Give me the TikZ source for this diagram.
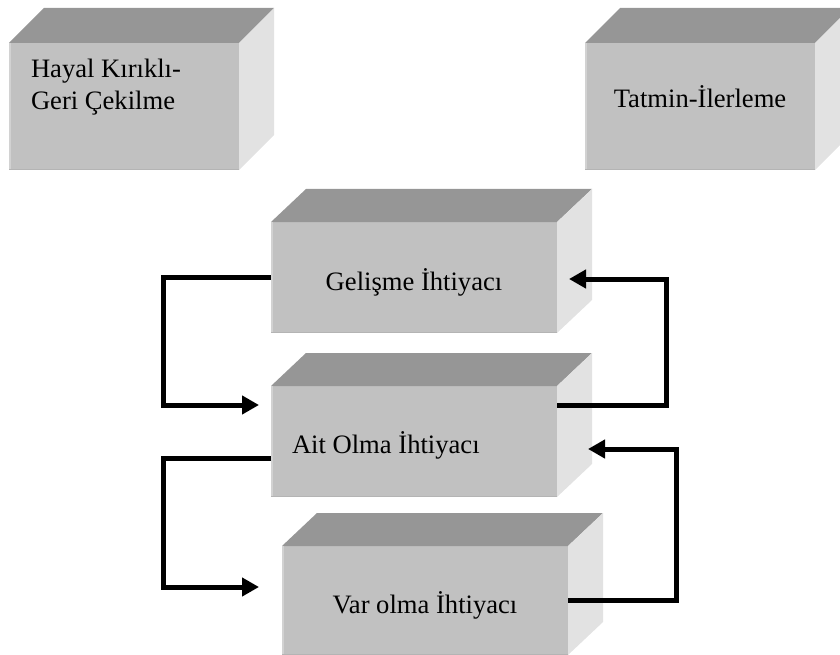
\documentclass[tikz,border=0pt]{standalone}
\usepackage{fontspec}
\setmainfont{Liberation Serif}
\usetikzlibrary{arrows.meta,calc}
\definecolor{cubetop}{HTML}{969696}
\definecolor{cubefrontc}{HTML}{C1C1C1}
\definecolor{cubeside}{HTML}{E2E2E2}
\definecolor{cubeedgelight}{HTML}{D2D2D2}
\definecolor{cubeedgedark}{HTML}{B4B4B4}
\tikzset{
  frontface/.style={fill=cubefrontc, draw=none, inner sep=0pt, outer sep=0pt},
  boxtext/.style={font=\fontsize{26.6pt}{32pt}\selectfont, inner sep=0pt, outer sep=0pt, text=black},
  flow/.style={line width=5pt, -{Triangle[length=17pt,width=18pt]}, line join=miter},
}
% top and right faces of a box whose front face is node #1, depth (#2,#3),
% with a thin light edge on the left and a darker one along the bottom
\newcommand\cubefaces[3]{%
  \fill[cubetop] (#1.north west) -- ++(#2,-#3) -- ($(#1.north east)+(#2,-#3)$) -- (#1.north east) -- cycle;
  \fill[cubeside] (#1.north east) -- ++(#2,-#3) -- ($(#1.south east)+(#2,-#3)$) -- (#1.south east) -- cycle;
  \draw[cubeedgelight, line width=1.5pt] ($(#1.north west)+(0.75,0)$) -- ($(#1.south west)+(0.75,0)$);
  \draw[cubeedgedark, line width=1.2pt] ($(#1.south west)+(0,-0.6)$) -- ($(#1.south east)+(0,-0.6)$);
}
\begin{document}
\begin{tikzpicture}[x=1pt,y=-1pt]
\useasboundingbox (0,0) rectangle (840,655);

% front faces
\node[frontface, minimum width=230pt, minimum height=127pt] (hayal) at (124,106.5) {};
\node[frontface, minimum width=230pt, minimum height=127pt] (tatmin) at (700,106.5) {};
\node[frontface, minimum width=286pt, minimum height=111pt] (gel) at (414,277.5) {};
\node[frontface, minimum width=286pt, minimum height=111pt] (ait) at (414,441.5) {};
\node[frontface, minimum width=286pt, minimum height=109pt] (var) at (425,600.5) {};

% top and side faces
\cubefaces{hayal}{35}{35}
\cubefaces{tatmin}{35}{35}
\cubefaces{gel}{35}{33}
\cubefaces{ait}{35}{33}
\cubefaces{var}{35}{33}

% labels
\node[boxtext, anchor=base west] (hayalA) at (31,78) {Hayal Kırıklı-};
\node[boxtext, anchor=base west] (hayalB) at (31,110) {Geri Çekilme};
\node[boxtext, anchor=base] (tatminT) at (700,108) {Tatmin-İlerleme};
\node[boxtext, anchor=base] (gelT) at (414,290) {Gelişme İhtiyacı};
\node[boxtext, anchor=base west] (aitT) at (292,453) {Ait Olma İhtiyacı};
\node[boxtext, anchor=base] (varT) at (425,613) {Var olma İhtiyacı};

% connectors
\draw[flow] (gel.west) -- ++(-108,0) |- ($(ait.north west)+(-12,19)$);
\draw[flow] ($(ait.north east)+(0,19)$) -- ++(109,0) |- ($(gel.east)+(12,1.5)$);
\draw[flow] ($(ait.west)+(0,16.5)$) -- ++(-108,0) |- ($(var.west)+(-23,-13.5)$);
\draw[flow] (var.east) -- ++(108,0) |- ($(ait.east)+(31,7.5)$);
\end{tikzpicture}
\end{document}
